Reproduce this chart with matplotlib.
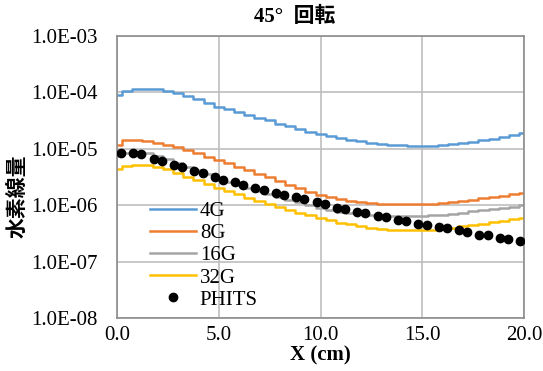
import math
import matplotlib.pyplot as plt
from matplotlib.ticker import FixedLocator, FuncFormatter

plt.rcParams['font.family'] = ['Liberation Serif', 'Noto Sans CJK JP']

# position (cm), 0.5 cm mesh
x = [i * 0.5 for i in range(41)]

g4 = [9.1e-5, 1.05e-4, 1.15e-4, 1.17e-4, 1.15e-4, 1.07e-4, 9.8e-5, 8.7e-5, 7.6e-5, 6.5e-5,
      5.6e-5, 5.0e-5, 4.5e-5, 4.0e-5, 3.5e-5, 3.2e-5, 2.8e-5, 2.5e-5, 2.2e-5, 2.0e-5,
      1.8e-5, 1.66e-5, 1.55e-5, 1.45e-5, 1.35e-5, 1.29e-5, 1.23e-5, 1.17e-5, 1.15e-5, 1.12e-5,
      1.12e-5, 1.12e-5, 1.15e-5, 1.2e-5, 1.26e-5, 1.32e-5, 1.41e-5, 1.51e-5, 1.62e-5, 1.74e-5,
      1.9e-5]
g8 = [1.15e-5, 1.41e-5, 1.41e-5, 1.38e-5, 1.29e-5, 1.17e-5, 1.07e-5, 9.5e-6, 8.3e-6, 7.2e-6,
      6.3e-6, 5.5e-6, 4.8e-6, 4.2e-6, 3.5e-6, 3.1e-6, 2.7e-6, 2.3e-6, 2.0e-6, 1.74e-6,
      1.51e-6, 1.38e-6, 1.29e-6, 1.2e-6, 1.15e-6, 1.1e-6, 1.07e-6, 1.05e-6, 1.05e-6, 1.05e-6,
      1.05e-6, 1.07e-6, 1.1e-6, 1.12e-6, 1.17e-6, 1.23e-6, 1.32e-6, 1.38e-6, 1.45e-6, 1.55e-6,
      1.66e-6]
g16 = [7.4e-6, 8.5e-6, 8.7e-6, 8.3e-6, 7.4e-6, 6.5e-6, 5.6e-6, 4.8e-6, 4.2e-6, 3.5e-6,
       3.0e-6, 2.6e-6, 2.3e-6, 2.0e-6, 1.78e-6, 1.58e-6, 1.41e-6, 1.26e-6, 1.12e-6, 1.0e-6,
       8.9e-7, 8.1e-7, 7.6e-7, 7.2e-7, 6.9e-7, 6.6e-7, 6.5e-7, 6.3e-7, 6.3e-7, 6.3e-7,
       6.5e-7, 6.6e-7, 6.8e-7, 7.1e-7, 7.4e-7, 7.8e-7, 8.1e-7, 8.5e-7, 8.9e-7, 9.3e-7,
       1.0e-6]
g32 = [4.4e-6, 5.0e-6, 5.2e-6, 5.1e-6, 4.8e-6, 4.3e-6, 3.7e-6, 3.2e-6, 2.8e-6, 2.4e-6,
       2.0e-6, 1.78e-6, 1.55e-6, 1.35e-6, 1.17e-6, 1.05e-6, 9.3e-7, 8.3e-7, 7.4e-7, 6.6e-7,
       5.9e-7, 5.4e-7, 4.9e-7, 4.6e-7, 4.3e-7, 4.0e-7, 3.8e-7, 3.7e-7, 3.6e-7, 3.6e-7,
       3.6e-7, 3.7e-7, 3.8e-7, 4.0e-7, 4.2e-7, 4.5e-7, 4.7e-7, 5.0e-7, 5.2e-7, 5.6e-7,
       6.0e-7]

x_phits = [0.2, 0.8, 1.2, 1.8, 2.2, 2.8, 3.2, 3.8, 4.2, 4.8,
           5.2, 5.8, 6.2, 6.8, 7.2, 7.8, 8.2, 8.8, 9.2, 9.8,
           10.2, 10.8, 11.2, 11.8, 12.2, 12.8, 13.2, 13.8, 14.2, 14.8,
           15.2, 15.8, 16.2, 16.8, 17.2, 17.8, 18.2, 18.8, 19.2, 19.8]
phits = [8.5e-6, 8.5e-6, 8.2e-6, 6.7e-6, 6.1e-6, 5.2e-6, 4.8e-6, 4.1e-6, 3.7e-6, 3.2e-6,
         2.8e-6, 2.6e-6, 2.3e-6, 2.0e-6, 1.85e-6, 1.67e-6, 1.5e-6, 1.4e-6, 1.28e-6, 1.15e-6,
         1.05e-6, 9.0e-7, 8.5e-7, 7.6e-7, 7.2e-7, 6.5e-7, 6.2e-7, 5.4e-7, 5.2e-7, 4.7e-7,
         4.5e-7, 4.1e-7, 3.9e-7, 3.6e-7, 3.4e-7, 3.0e-7, 2.9e-7, 2.6e-7, 2.5e-7, 2.35e-7]

fig = plt.figure(figsize=(5.43, 3.71), dpi=100)
ax = fig.add_axes([0.2155, 0.143, 0.75, 0.76])

lw = 1.8
ax.plot(x, g4, drawstyle='steps-mid', color='#5b9bd5', lw=lw, label='4G')
ax.plot(x, g8, drawstyle='steps-mid', color='#ed7d31', lw=lw, label='8G')
ax.plot(x, g16, drawstyle='steps-mid', color='#a5a5a5', lw=lw, label='16G')
ax.plot(x, g32, drawstyle='steps-mid', color='#ffc000', lw=lw, label='32G')
ax.plot(x_phits, phits, 'o', color='black', ms=6, label='PHITS', zorder=5)

ax.set_yscale('log')
ax.set_ylim(1e-8, 1e-3)
ax.set_xlim(0, 20)
ax.xaxis.set_major_locator(FixedLocator([0, 5, 10, 15, 20]))
ax.xaxis.set_major_formatter(FuncFormatter(lambda v, p: '%.1f' % v))
ax.yaxis.set_major_locator(FixedLocator([1e-8, 1e-7, 1e-6, 1e-5, 1e-4, 1e-3]))
ax.yaxis.set_minor_locator(FixedLocator([]))
ax.yaxis.set_major_formatter(FuncFormatter(lambda v, p: '1.0E-%02d' % round(-math.log10(v))))
ax.tick_params(length=0, labelsize=15, pad=6)
ax.tick_params(axis='y', pad=14)

ax.grid(True, color='#bfbfbf', lw=1.2)
ax.set_axisbelow(True)
for s in ax.spines.values():
    s.set_color('#8c8c8c')
    s.set_linewidth(1.2)

ax.set_xlabel('X (cm)', fontsize=15, fontweight='bold', labelpad=0)
fig.text(0.035, 0.47, '水素線量', rotation=90, fontsize=15, fontweight='bold',
         ha='center', va='center')
fig.text(0.543, 0.955, '45°  回転', fontsize=15, fontweight='bold', ha='center', va='center')

ax.legend(loc='lower left', bbox_to_anchor=(0.06, 0.0), frameon=False, fontsize=15,
          handlelength=2.2, handletextpad=0.2, labelspacing=0.12, borderaxespad=0)

fig.savefig('out.png', dpi=100)
